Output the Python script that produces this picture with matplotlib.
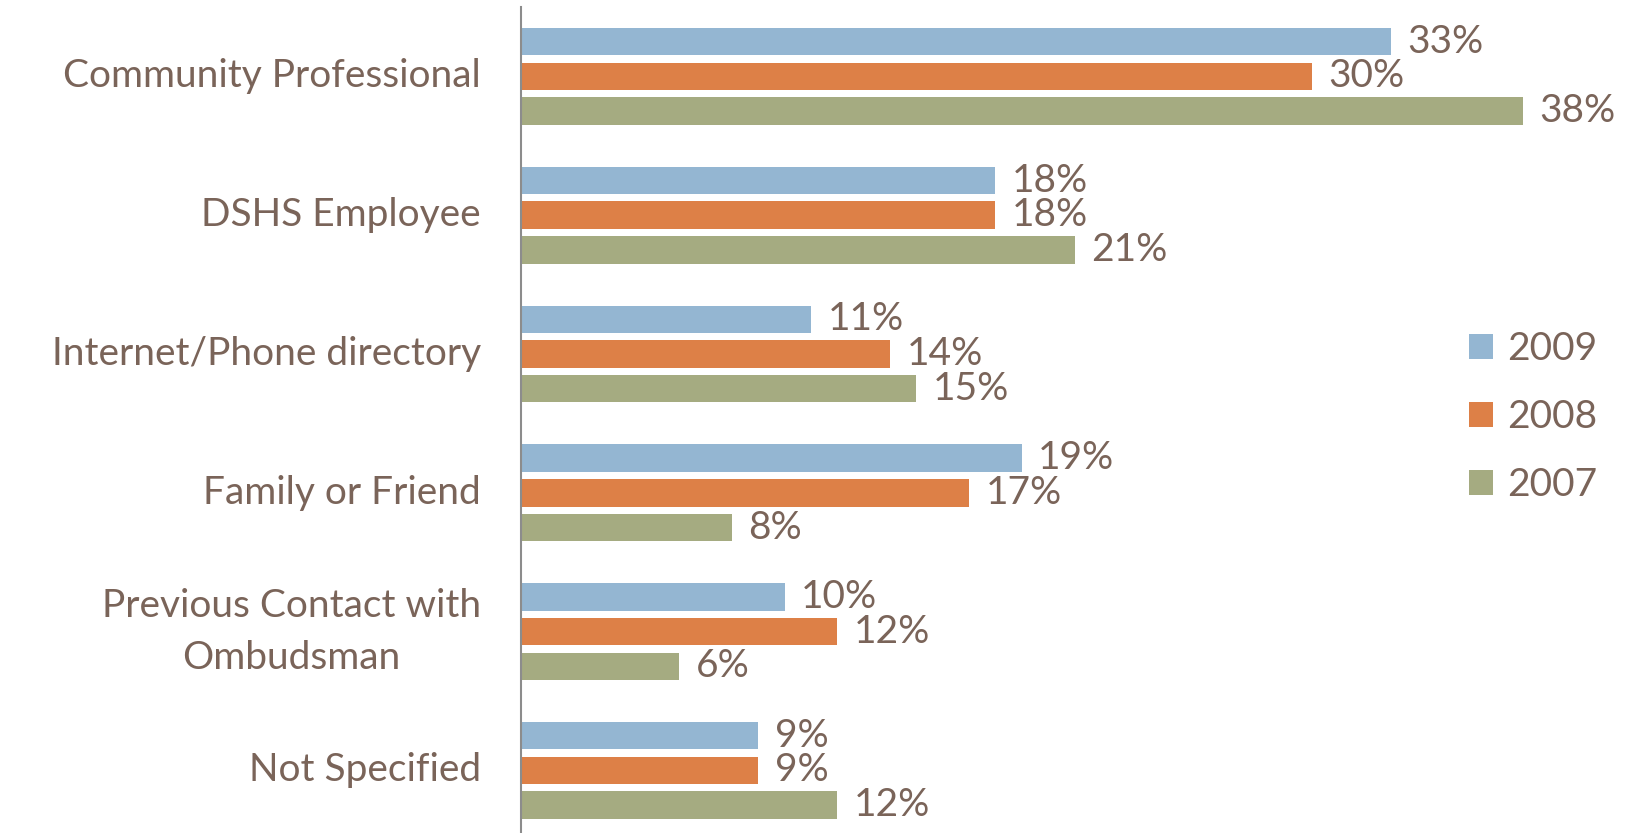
import matplotlib
matplotlib.use("Agg")
import matplotlib.pyplot as plt
import numpy as np

# Referral source shares by year (%)
categories = ["Community Professional", "DSHS Employee", "Internet/Phone directory",
              "Family or Friend", "Previous Contact with\nOmbudsman", "Not Specified"]
years = ["2009", "2008", "2007"]
vals_2009 = [33, 18, 11, 19, 10, 9]
vals_2008 = [30, 18, 14, 17, 12, 9]
vals_2007 = [38, 21, 15, 8, 6, 12]

colors = ["#94B6D2", "#DD8047", "#A5AB81"]
text_color = "#7A6459"
fs = 28

plt.rcParams['font.family'] = ['Lato', 'DejaVu Sans']

W, H = 1636, 833
fig = plt.figure(figsize=(W / 100, H / 100), dpi=100)
# axes placed in pixel terms: left at 521px, top at 7px, runs past bottom edge
left, top = 521, 7
group_px = 138.8
ax = fig.add_axes([left / W, (H - top - 6 * group_px) / H, (W - left) / W, 6 * group_px / H])

y = np.arange(len(categories))
bar_h = 0.198
offsets = [-0.25, 0.0, 0.25]
series = [vals_2009, vals_2008, vals_2007]

for vals, off, col, yr in zip(series, offsets, colors, years):
    ax.barh(y + off, vals, height=bar_h, color=col, label=yr)
    for yi, v in zip(y, vals):
        ax.text(v + 0.62, yi + off, f"{v}%", va="center", ha="left",
                fontsize=fs, color=text_color)

ax.set_xlim(0, (W - left) / 26.36)
ax.set_ylim(len(categories) - 0.5, -0.5)
ax.set_yticks(y)
ax.set_yticklabels(categories, fontsize=fs, color=text_color)
for lab in ax.get_yticklabels():
    lab.set_multialignment("center")
    lab.set_linespacing(1.55)
    lab.set_va("center")
ax.tick_params(axis="y", length=0, pad=29)
ax.set_xticks([])

for s in ["top", "right", "bottom"]:
    ax.spines[s].set_visible(False)
ax.spines["left"].set_color("#8C8C8C")
ax.spines["left"].set_linewidth(1.5)

# legend centre ~417px from top of the image
leg = ax.legend(loc="center left", bbox_to_anchor=(1450 / W, (H - 417) / H),
                bbox_transform=fig.transFigure, frameon=False,
                fontsize=fs, labelcolor=text_color,
                handlelength=0.6, handleheight=0.6, handletextpad=0.36,
                labelspacing=0.82, borderpad=0)

fig.savefig("out.png", dpi=100)
